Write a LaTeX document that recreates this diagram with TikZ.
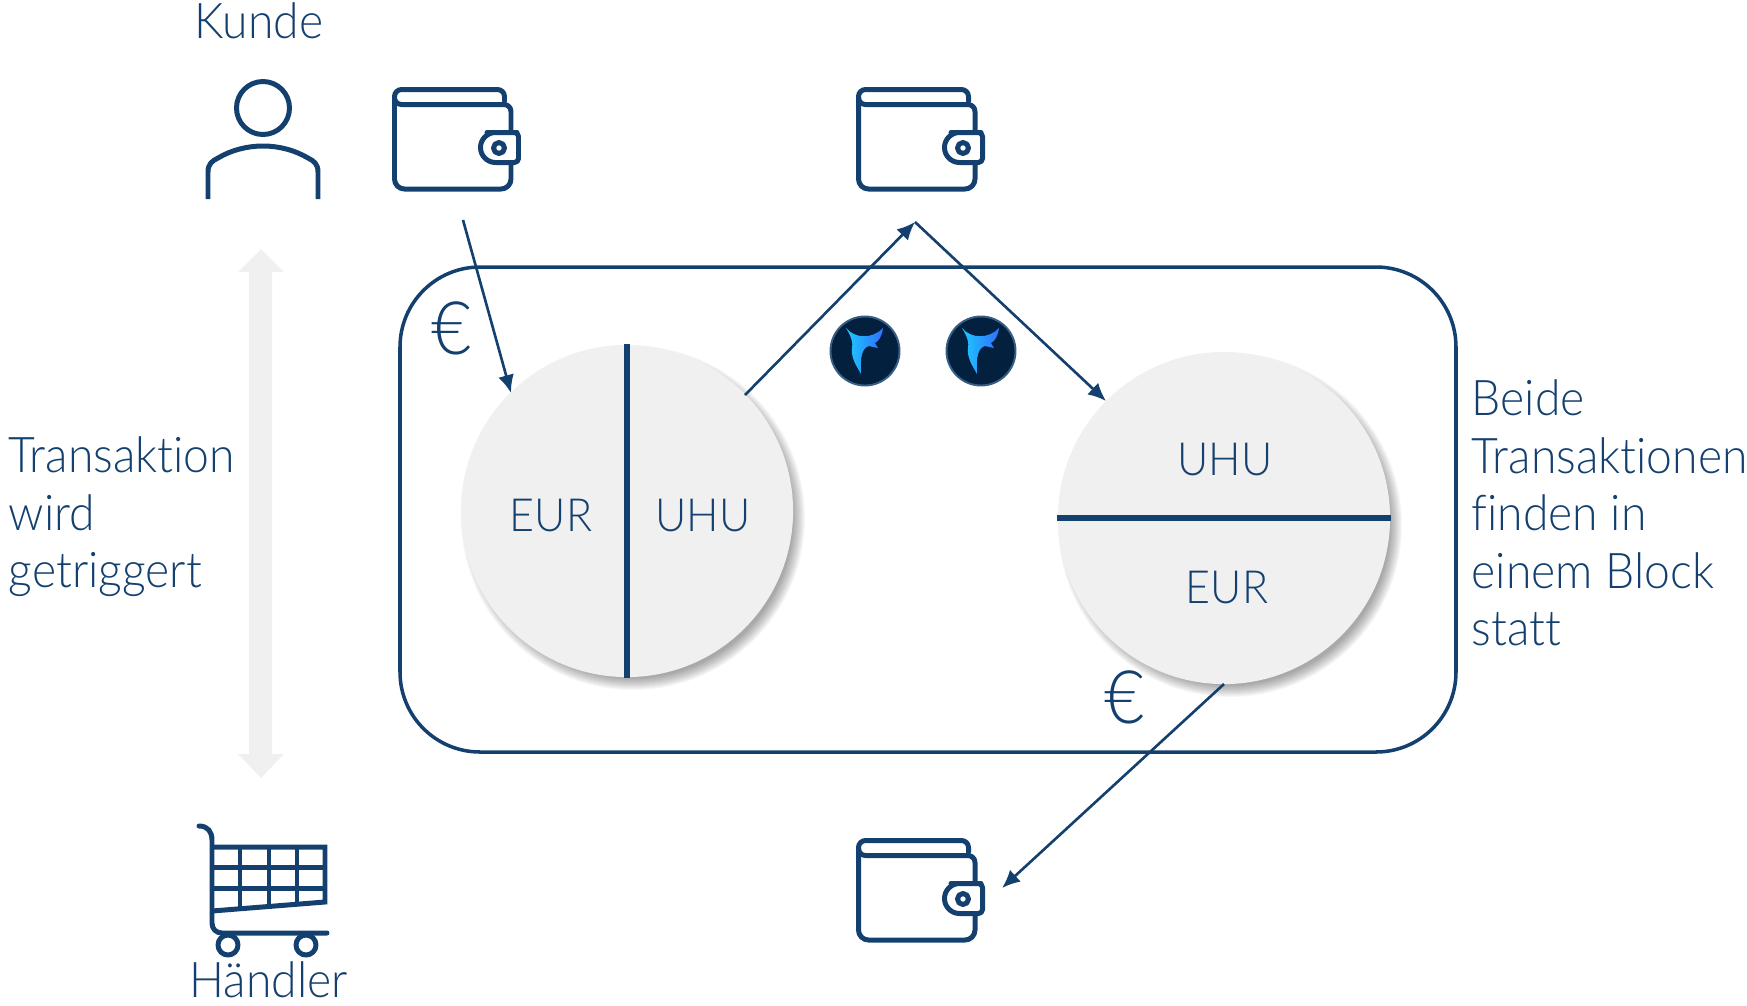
\documentclass[tikz,border=0pt]{standalone}
\usepackage{fontspec}
\setmainfont{Lato}[UprightFont=* Light, FakeStretch=0.94, Ligatures=NoCommon]
\usepackage{tikz}
\usetikzlibrary{arrows, arrows.meta, positioning, shadows}
\definecolor{navy}{HTML}{14406F}
\definecolor{lightgray}{HTML}{F0F0F0}
\definecolor{logodark}{HTML}{04203F}
\definecolor{logoleft}{HTML}{1FC8FF}
\definecolor{logoright}{HTML}{2F70FF}
\tikzstyle{icon}  = [draw=navy, line width=1.42pt, line cap=round, line join=round]
\tikzstyle{label} = [text=navy, inner sep=0pt, font=\fontsize{14}{16.35}\selectfont]
\tikzstyle{short} = [label, font=\fontsize{13}{16}\selectfont]
\tikzstyle{euro}  = [label, font=\fontsize{21}{22}\selectfont]
\tikzstyle{->}    = [draw=navy, line width=0.75pt, -{Latex[length=1.8mm,width=1.6mm]}]
\tikzstyle{disc}  = [circle, fill=lightgray, minimum size=3.32cm, inner sep=0pt]
\tikzstyle{split} = [draw=navy, line width=1.7pt]
\tikzset{
  wallet/.pic = {
    \draw [icon, rounded corners=0.07cm] (112.5,14) -- (112.5,2.5) -- (2.5,2.5) -- (2.5,17.5) -- (119,17.5) -- (119,45);
    \draw [icon, rounded corners=0.1cm] (2.5,10) -- (2.5,102) -- (119,102) -- (119,76);
    \draw [icon, rounded corners=0.04cm] (110,45.5) -- (126.5,45.5) -- (126.5,75.5) [rounded corners=0.15cm] -- (88.5,75.5) -- (88.5,45.5) -- cycle;
    \draw [icon] (107,61) circle [radius=5.5];
  },
  logo/.pic = {
    \fill [logodark] (0,0) circle [radius=34];
    \draw [navy!85!white, line width=0.55pt] (0,0) circle [radius=34.5];
    \shade [left color=logoleft, right color=logoright]
      (-19,-23) .. controls (-10,-12) and (8,-12) .. (18,-23)
      .. controls (17,-15) and (14,-10) .. (10,-8) -- (13,-3) -- (4,-5)
      .. controls (-3,-3) and (-5,6) .. (-4,23)
      .. controls (-9,14) and (-14,7) .. (-13,-3)
      .. controls (-12,-8) and (-13,-13) .. (-19,-23) -- cycle;
  }
}
\begin{document}
\begin{tikzpicture}[x=0.01cm, y=-0.01cm]
\useasboundingbox (0,0) rectangle (1747,1005);

% frame
\draw [navy, line width=1.0pt, rounded corners=0.8cm] (400,267) rectangle (1456,752);

% gray arrow
\fill [lightgray] (261,249) -- (284,272) -- (272,272) -- (272,754) -- (284,754) -- (261,778)
  -- (238,754) -- (249,754) -- (249,272) -- (238,272) -- cycle;

% discs
\foreach \r in {160,161,...,172} {
  \fill [black, opacity=0.032] (633,518) circle [radius=\r];
  \fill [black, opacity=0.032] (1230,525) circle [radius=\r];
}
\node [disc] at (627,511)  (left)  {};
\node [disc] at (1224,518) (right) {};
\draw [split] (left.north) -- (left.south);
\draw [split] (right.west) -- (right.east);

% texts
\node [label, anchor=base west] at (194,38)  (kunde)    {Kunde};
\node [label, anchor=base west] at (189,997) (haendler) {Händler};
\node [short, anchor=base] at (551,531)  (eurleft)  {EUR};
\node [short, anchor=base] at (703,531)  (uhuleft)  {UHU};
\node [short, anchor=base] at (1225,475) (uhuright) {UHU};
\node [short, anchor=base] at (1227,603) (eurright) {EUR};
\node [euro, anchor=base] at (452,354)  (euroleft)  {€};
\node [euro, anchor=base] at (1125,723) (euroright) {€};
\node [label, anchor=north west, align=left] at (8,436) (trigger) {Transaktion\\wird\\getriggert};
\node [label, anchor=north west, align=left] at (1471,379) (block) {Beide\\Transaktionen\\finden in\\einem Block\\statt};

% icons
\draw [icon] (263,108) circle [radius=26.5];
\draw [icon, line cap=butt] (208,199) -- (208,172) .. controls (208,164) and (212,161) .. (218,158)
  .. controls (245,142) and (281,142) .. (308,158) .. controls (314,161) and (318,164) .. (318,172) -- (318,199);
\pic at (392,87)  {wallet};
\pic at (856,87)  {wallet};
\pic at (856,838) {wallet};
\pic at (865,351) {logo};
\pic at (981,351) {logo};
\draw [icon] (199,826) .. controls (208,826) and (212,832) .. (212,840) -- (212,923)
  .. controls (212,929) and (216,933) .. (222,933) -- (327,933);
\draw [icon, line cap=butt, line join=miter] (212,847) -- (325,847) -- (325,902) -- (212,911);
\draw [icon, line cap=butt] (212,867) -- (325,867) (212,888) -- (325,888)
  (240,847) -- (240,908) (269,847) -- (269,906) (297,847) -- (297,903);
\draw [icon] (228,945) circle [radius=10] (306,945) circle [radius=10];

% edges
\coordinate (walletout) at (463,220);
\coordinate (walletin)  at (511,393);
\coordinate (peak)      at (915,222);
\coordinate (uhuout)    at (745,395);
\coordinate (uhuin)     at (1106,401);
\coordinate (eurout)    at (1224,684);
\coordinate (eurin)     at (1002,888);
\path [->] (walletout) -- (walletin);
\path [->] (uhuout) -- (peak);
\path [->] (peak) -- (uhuin);
\path [->] (eurout) -- (eurin);

\end{tikzpicture}
\end{document}
